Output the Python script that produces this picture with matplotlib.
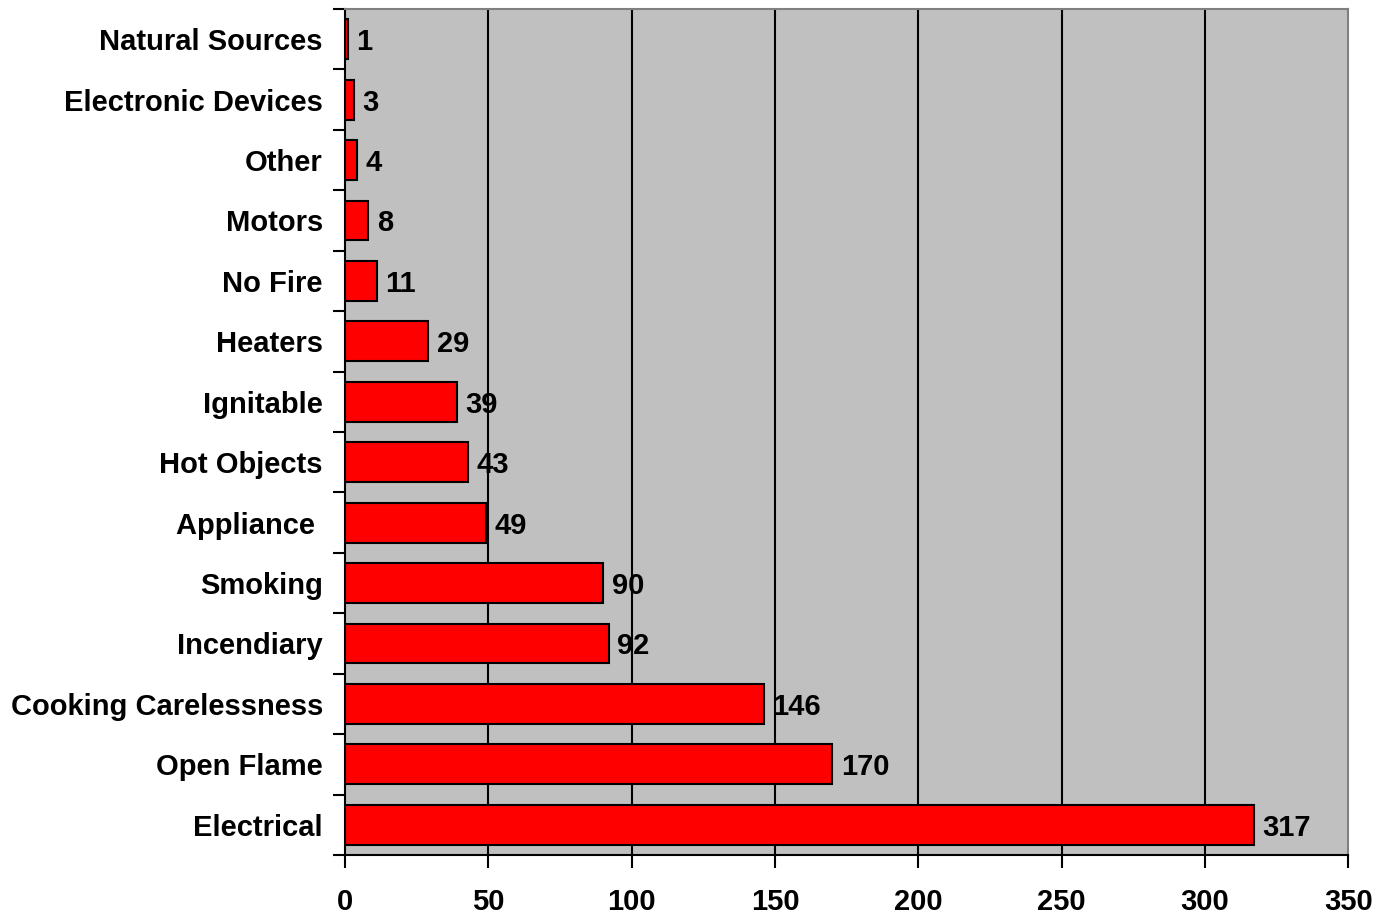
import matplotlib.pyplot as plt
import numpy as np

causes = ["Electrical", "Open Flame", "Cooking Carelessness", "Incendiary", "Smoking",
          "Appliance ", "Hot Objects", "Ignitable", "Heaters", "No Fire", "Motors",
          "Other", "Electronic Devices", "Natural Sources"]
counts = [317, 170, 146, 92, 90, 49, 43, 39, 29, 11, 8, 4, 3, 1]
xticks = [0, 50, 100, 150, 200, 250, 300, 350]

plt.rcParams['font.family'] = ['Liberation Sans', 'DejaVu Sans']
plt.rcParams['font.weight'] = 'bold'

fig = plt.figure(figsize=(13.86, 9.15), dpi=100)
ax = fig.add_axes([0.249, 0.0656, 0.7237, 0.9246])
ax.set_facecolor('#C0C0C0')

y = np.arange(len(causes))
ax.barh(y, counts, height=0.66, color='#FF0000', edgecolor='black', linewidth=1.5, zorder=3)
for yi, v in zip(y, counts):
    ax.text(v + 3, yi, str(v), va='center_baseline', ha='left', fontsize=21, fontweight='bold', zorder=4)

ax.set_xlim(0, 350)
ax.set_ylim(-0.5, len(causes) - 0.5)
ax.set_xticks(xticks)
ax.set_xticklabels([str(t) for t in xticks], fontsize=21, fontweight='bold')
for t in xticks[1:-1]:
    ax.axvline(t, color='black', linewidth=1.5, zorder=1)

ax.set_yticks(np.arange(-0.5, len(causes), 1.0))
ax.set_yticklabels([])
ax.set_yticks(y, minor=True)
ax.set_yticklabels(causes, minor=True, fontsize=21, fontweight='bold')
ax.tick_params(axis='y', which='minor', length=0, pad=16)
ax.tick_params(axis='y', which='major', length=9, width=1.5, direction='out')
ax.tick_params(axis='x', length=9, width=1.5, direction='out', pad=15)

ax.spines['left'].set_linewidth(1.5)
ax.spines['bottom'].set_linewidth(1.5)
ax.spines['top'].set_color('#808080')
ax.spines['right'].set_color('#808080')
ax.spines['top'].set_linewidth(1.5)
ax.spines['right'].set_linewidth(1.5)

fig.savefig('out.png', dpi=100)
